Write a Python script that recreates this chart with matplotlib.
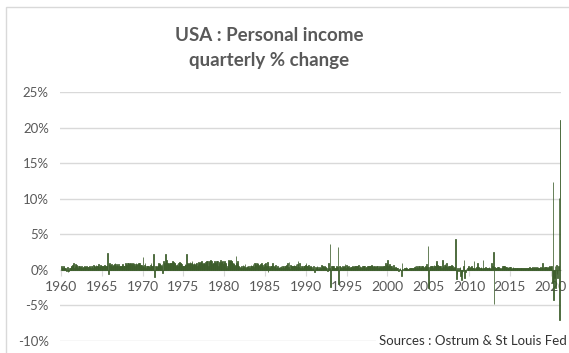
import numpy as np
import matplotlib
matplotlib.use("Agg")
import matplotlib.pyplot as plt
from matplotlib.patches import Rectangle

# Monthly % change of US personal income, Jan 1960 -> Mar 2021
pi_1960s = [
    0.6, 0.2, 0.3, 0.5, 0.4, 0.2, 0.3, 0.1, -0.2, 0.4, -0.3, -0.1,
    0.2, 0.3, 0.5, 0.6, 0.7, 0.6, 0.9, 0.2, 0.5, 0.8, 0.7, 0.6,
    0.3, 0.6, 0.5, 0.5, 0.4, 0.3, 0.5, 0.3, 0.4, 0.4, 0.5, 0.4,
    0.4, 0.5, 0.4, 0.3, 0.4, 0.5, 0.4, 0.3, 0.6, 0.5, 0.3, 0.7,
    0.5, 0.6, 0.4, 0.7, 0.5, 0.6, 0.5, 0.8, 0.4, 0.5, 0.7, 0.6,
    0.4, 0.6, 0.5, 0.7, 0.5, 0.6, 0.5, 0.6, 2.4, -0.6, 0.8, 0.9,
    0.7, 0.6, 0.8, 0.5, 0.6, 0.7, 0.8, 0.9, 0.6, 0.8, 0.7, 0.6,
    0.8, 0.4, 0.6, 0.5, 0.6, 0.7, 0.8, 0.5, 0.6, 0.5, 0.9, 0.8,
    0.7, 1.0, 0.8, 0.9, 0.8, 0.9, 1.0, 0.8, 0.7, 0.9, 0.8, 0.9,
    0.6, 0.8, 0.9, 0.7, 0.8, 0.9, 0.8, 0.9, 0.7, 0.6, 0.7, 0.6,
]
pi_1970s = [
    1.8, 0.4, 0.7, 1.0, 0.3, 0.5, 0.6, 0.5, 0.6, 0.3, 0.4, 0.7,
    0.9, 0.5, 0.6, 0.7, 2.2, -1.0, 0.6, 0.5, 0.4, 0.6, 0.7, 0.9,
    0.8, 0.9, 0.7, 0.6, 0.8, -0.4, 1.2, 0.9, 0.9, 2.2, 0.5, 1.4,
    1.0, 0.9, 0.8, 0.9, 0.8, 1.0, 0.9, 1.2, 0.8, 1.1, 1.0, 0.9,
    0.6, 0.7, 0.8, 0.6, 0.9, 0.9, 1.1, 1.0, 0.9, 0.8, 0.6, 0.5,
    0.5, 0.6, 0.8, 0.7, 2.2, 0.1, 1.0, 0.8, 0.9, 1.1, 0.8, 0.9,
    1.2, 0.8, 0.7, 0.9, 0.8, 0.7, 1.0, 0.9, 0.6, 0.8, 1.1, 1.0,
    0.6, 1.1, 1.2, 0.9, 0.8, 0.9, 1.0, 0.8, 1.1, 1.3, 1.0, 1.2,
    0.5, 1.1, 1.2, 1.4, 0.9, 1.2, 0.8, 1.0, 1.0, 1.3, 1.1, 0.9,
    1.2, 0.8, 1.3, 0.6, 0.9, 1.1, 1.4, 0.9, 1.1, 1.2, 0.8, 1.1,
]
pi_1980s = [
    1.3, 0.9, 0.8, 0.2, 0.5, 0.9, 1.4, 1.2, 1.3, 1.4, 1.3, 1.2,
    0.9, 0.8, 0.9, 0.6, 0.7, 2.0, 0.9, 1.3, 0.8, 0.6, 0.4, 0.3,
    0.4, 0.5, 0.3, 0.7, 0.6, 0.4, 0.8, 0.3, 0.4, 0.5, 0.4, 0.6,
    0.3, 0.2, 0.6, 0.7, 0.5, 0.6, 0.8, 0.4, 0.9, 1.0, 0.7, 0.9,
    0.8, 0.9, 0.6, 0.7, 0.6, 0.8, 0.9, 0.5, 0.7, 0.4, 0.6, 0.8,
    1.0, 0.3, 0.5, 1.1, -0.3, 0.5, 0.3, 0.4, 0.6, 0.5, 0.7, 0.9,
    0.5, 0.4, 0.6, 0.7, 0.2, 0.4, 0.5, 0.3, 0.4, 0.3, 0.4, 0.6,
    0.2, 0.6, 0.5, 0.3, 0.5, 0.4, 0.6, 0.7, 0.3, 0.9, 0.4, 1.1,
    0.1, 0.7, 0.6, 0.5, 0.6, 0.6, 0.7, 0.5, 0.6, 0.8, 0.4, 0.8,
    1.2, 0.4, 0.9, 0.3, 0.3, 0.5, 0.6, 0.2, 0.5, 0.6, 0.5, 0.7,
]
pi_1990s = [
    0.9, 0.6, 0.5, 0.7, 0.2, 0.4, 0.5, 0.3, 0.4, 0.1, 0.3, 0.6,
    -0.3, 0.1, 0.4, 0.2, 0.5, 0.4, 0.1, 0.3, 0.4, 0.2, 0.1, 0.7,
    0.6, 0.5, 0.4, 0.5, 0.4, 0.3, 0.2, -0.1, 0.3, 0.9, 0.2, 3.7,
    -2.4, 0.5, 0.2, 0.6, 0.5, 0.3, 0.2, 0.3, 0.4, 0.5, 0.4, 3.2,
    -2.0, 0.6, 0.5, 0.4, 0.3, 0.5, 0.4, 0.4, 0.5, 0.8, 0.3, 0.7,
    0.5, 0.4, 0.6, 0.2, 0.3, 0.4, 0.3, 0.4, 0.5, 0.3, 0.4, 0.5,
    0.2, 0.6, 0.5, 0.3, 0.6, 0.7, 0.2, 0.5, 0.4, 0.3, 0.4, 0.5,
    0.6, 0.5, 0.6, 0.3, 0.4, 0.4, 0.5, 0.4, 0.5, 0.6, 0.5, 0.6,
    0.7, 0.6, 0.5, 0.4, 0.5, 0.5, 0.4, 0.5, 0.4, 0.5, 0.3, 0.4,
    0.5, 0.4, 0.3, 0.6, 0.4, 0.5, 0.6, 0.5, 0.2, 1.0, 0.7, 0.9,
]
pi_2000s = [
    1.4, 0.6, 0.7, 0.8, 0.5, 0.4, 0.5, 0.3, 0.7, 0.2, 0.3, 0.4,
    0.2, 0.3, 0.2, 0.0, -0.1, 0.1, 0.3, 0.0, -0.8, 0.9, 0.1, 0.0,
    0.2, 0.2, 0.3, 0.4, 0.3, 0.1, 0.0, 0.1, 0.2, 0.3, 0.3, 0.2,
    0.2, 0.1, 0.3, 0.4, 0.5, 0.3, 0.6, 0.4, 0.3, 0.5, 0.4, 0.6,
    0.3, 0.4, 0.5, 0.6, 0.5, 0.2, 0.4, 0.5, 0.3, 0.8, 0.4, 3.4,
    -2.5, 0.4, 0.3, 0.5, 0.6, 0.4, 0.6, 0.3, 0.7, 0.6, 0.5, 0.9,
    1.2, 0.7, 0.6, 0.5, 0.6, 0.4, 0.5, 0.3, 1.4, 0.6, 0.4, 0.7,
    0.8, 0.6, 0.9, 0.3, 0.4, 0.5, 0.4, 0.5, 0.6, 0.4, 0.7, 0.5,
    0.3, 0.2, 0.4, 0.3, 4.4, -1.3, -0.6, 0.2, -0.1, 0.3, 0.4, -0.8,
    -1.4, -0.5, -0.2, 0.5, 1.4, -1.1, -0.3, 0.1, 0.0, 0.2, 0.4, 0.5,
]
pi_2010s = [
    0.3, 0.2, 0.4, 0.5, 0.4, 0.3, 0.2, 1.2, 0.1, 0.3, 0.4, 0.5,
    1.0, 0.4, 0.3, 0.2, 0.3, 0.4, 0.2, 0.1, 1.4, 0.3, 0.2, 0.1,
    0.4, 0.3, 0.3, 0.2, 0.3, 0.4, 0.2, 0.1, 0.3, 1.0, 0.6, 2.5,
    -4.8, 0.4, 0.3, 0.2, 0.3, 0.4, 0.1, 0.4, 0.3, 0.2, 0.1, 0.3,
    0.3, 0.5, 0.5, 0.4, 0.5, 0.4, 0.3, 0.4, 0.3, 0.4, 0.3, 0.4,
    0.4, 0.3, 0.1, 0.2, 0.4, 0.3, 0.3, 0.2, 0.2, 0.2, 0.3, 0.3,
    0.2, 0.1, 0.2, 0.3, 0.2, 0.3, 0.3, 0.1, 0.3, 0.2, 0.1, 0.2,
    0.3, 0.3, 0.2, 0.3, 0.4, 0.3, 0.3, 0.2, 0.3, 0.4, 0.3, 0.3,
    0.4, 0.3, 0.3, 0.4, 0.3, 0.4, 0.3, 0.3, 0.3, 0.4, 0.3, 0.4,
    1.0, 0.2, 0.4, 0.3, 0.4, 0.4, 0.3, 0.2, 0.4, 0.3, 0.5, 0.4,
]
pi_2020s = [
    0.6, 0.5, -1.9, 12.3, -4.2, -1.1, 0.5, -2.6, 0.7, -0.6, -1.1, 0.6,
    10.1, -7.1, 21.0,
]
start_year = 1960
year_ticks = list(range(1960, 2021, 5))
y_ticks = [-10, -5, 0, 5, 10, 15, 20, 25]

values = np.array(pi_1960s + pi_1970s + pi_1980s + pi_1990s + pi_2000s + pi_2010s + pi_2020s)
x = start_year + np.arange(len(values)) / 12 + 1 / 24

W, H = 569, 353
fig = plt.figure(figsize=(W / 100, H / 100), dpi=100)
fig.patch.set_facecolor("white")
font = ["Lato", "DejaVu Sans"]

# chart frame
fig.patches.append(Rectangle((6 / W, -0.1), 1.2, 1.1 - 7 / H, transform=fig.transFigure,
                             fill=False, edgecolor="#d9d9d9", linewidth=1.0))

ax = fig.add_axes([60 / W, 1 - 341 / H, 501 / W, 249 / H])
ax.set_facecolor("none")
ax.bar(x, values, width=1 / 12, color="#375623", edgecolor="#3d5e2c", linewidth=0.55, zorder=3)

ax.set_xlim(1959.88, 2021.27)
ax.set_ylim(-10, 25)
ax.set_yticks(y_ticks)
ax.set_yticklabels([f"{v}%" for v in y_ticks], fontfamily=font, fontsize=9.5, color="#595959")
ax.tick_params(axis="y", length=0, pad=8)
ax.grid(axis="y", color="#d9d9d9", linewidth=1.0, zorder=0)
ax.set_axisbelow(True)

for s in ["top", "right", "left"]:
    ax.spines[s].set_visible(False)
ax.spines["bottom"].set_position(("data", 0))
ax.spines["bottom"].set_color("#d9d9d9")
ax.spines["bottom"].set_zorder(2)
ax.set_xticks(year_ticks)
ax.set_xticklabels([str(v) for v in year_ticks], fontfamily=font, fontsize=10, color="#595959")
ax.tick_params(axis="x", length=4, color="#d9d9d9", pad=4)

fig.text(269 / W, 1 - 48 / H, "USA : Personal income\nquarterly % change", ha="center", va="center",
         fontfamily=font, fontsize=13.5, fontweight="bold", color="#595959", linespacing=1.6)

fig.text(567 / W, 1 - 341 / H, "Sources : Ostrum & St Louis Fed", ha="right", va="center",
         fontfamily=font, fontsize=9.5, color="#333333",
         bbox=dict(facecolor="white", edgecolor="none", pad=2))

fig.savefig("out.png", dpi=100, facecolor="white")
